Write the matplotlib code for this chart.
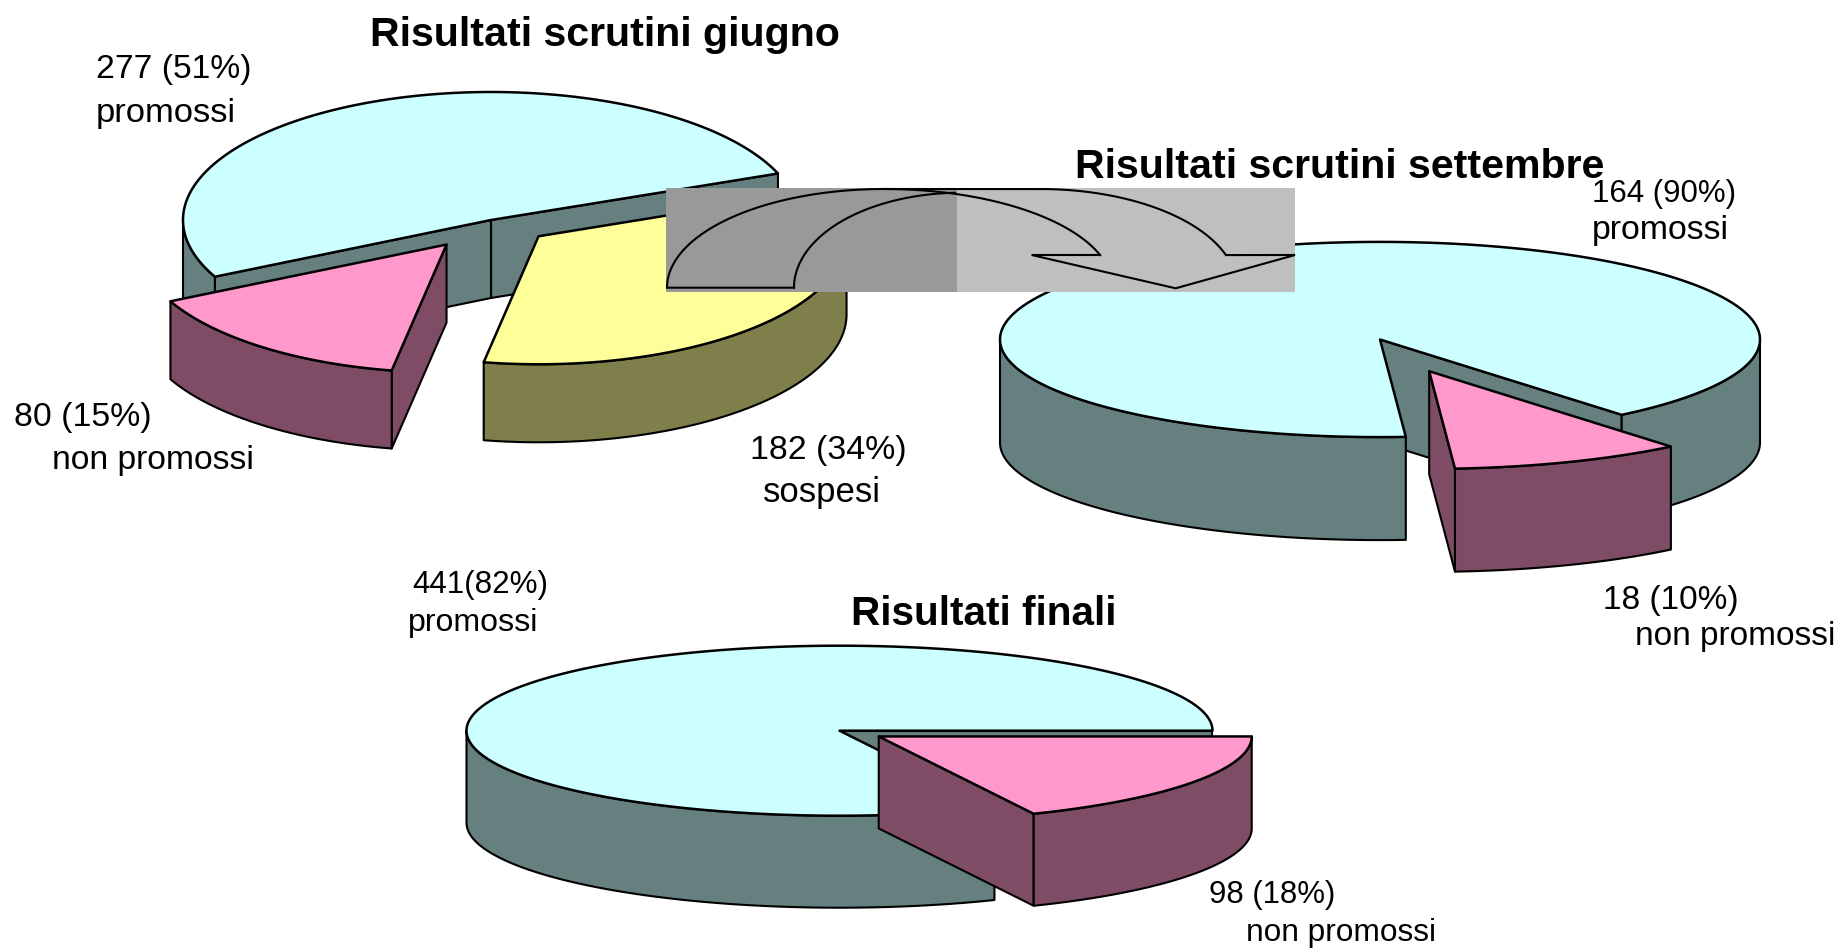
"""
Three exploded 3D looking pies (scrutini giugno, settembre, finali) with the curved arrow
"""

import numpy as np
import matplotlib
matplotlib.use("Agg")
from matplotlib import pyplot as plt
from matplotlib.patches import Polygon, Rectangle

plt.rcParams['font.family'] = ['Liberation Sans', 'DejaVu Sans']

# data
giugno_values = [277, 80, 182]
settembre_values = [164, 18]
finali_values = [441, 98]

giugno_kinds = ["promossi", "non promossi", "sospesi"]
settembre_kinds = ["promossi", "non promossi"]
finali_kinds = ["promossi", "non promossi"]

title_giugno = "Risultati scrutini giugno"
title_settembre = "Risultati scrutini settembre"
title_finali = "Risultati finali"

# colours
tops = {"promossi": "#CCFFFF", "non promossi": "#FF99CC", "sospesi": "#FFFF99"}
sides = {"promossi": "#667F7F", "non promossi": "#7F4C66", "sospesi": "#7F7F4C"}

fig = plt.figure(figsize=(18.4, 9.49), dpi=100)
ax = fig.add_axes([0, 0, 1, 1])
ax.set_xlim(0, 1840)
ax.set_ylim(949, 0)
ax.axis("off")

LW = 1.5


def rim(cx, cy, a, b, t):
    t = np.radians(t)
    return np.column_stack([cx + a * np.cos(t), cy - b * np.sin(t)])


def draw_pie(values, kinds, cx, cy, a, b, depth, start, explode):
    total = float(sum(values))
    t0 = start
    for value, kind, ex in zip(values, kinds, explode):
        t1 = t0 + 360.0 * value / total
        mid = np.radians((t0 + t1) / 2)
        x = cx + ex * a * np.cos(mid)
        y = cy - ex * b * np.sin(mid)
        edge = rim(x, y, a, b, np.linspace(t0, t1, 300))
        down = np.array([0, depth])
        apex = np.array([x, y])
        # cut faces, only the ones turned towards the viewer
        if np.cos(np.radians(t0)) > 0:
            face = [apex, edge[0], edge[0] + down, apex + down]
            ax.add_patch(Polygon(face, fc=sides[kind], ec="k", lw=LW, joinstyle="round"))
        if np.cos(np.radians(t1)) < 0:
            face = [apex, edge[-1], edge[-1] + down, apex + down]
            ax.add_patch(Polygon(face, fc=sides[kind], ec="k", lw=LW, joinstyle="round"))
        # outer wall, only the front half of the ellipse shows
        for lo, hi in ((-180, 0), (180, 360), (540, 720)):
            lo2, hi2 = max(t0, lo), min(t1, hi)
            if hi2 > lo2:
                arc = rim(x, y, a, b, np.linspace(lo2, hi2, 300))
                wall = np.vstack([arc, arc[::-1] + down])
                ax.add_patch(Polygon(wall, fc=sides[kind], ec="k", lw=LW, joinstyle="round"))
        ax.add_patch(Polygon(np.vstack([apex, edge]), fc=tops[kind], ec="k", lw=LW + 0.3, joinstyle="round"))
        t0 = t1


draw_pie(giugno_values, giugno_kinds, 491, 220, 308, 128, 78, 21.3, [0, 0.24, 0.2])
draw_pie(settembre_values, settembre_kinds, 1380, 339.5, 380, 97.6, 103, -50.5, [0, 0.35])
draw_pie(finali_values, finali_kinds, 839.5, 730.7, 373, 85, 92, 0, [0, 0.125])


# curved arrow sitting on a two tone box
def arc(cx, cy, rx, ry, t0, t1):
    t = np.radians(np.linspace(t0, t1, 120))
    return np.column_stack([cx + rx * np.cos(t), cy - ry * np.sin(t)])


ax.add_patch(Rectangle((666, 188), 291, 104, fc="#999999", ec="none", zorder=5))
ax.add_patch(Rectangle((957, 188), 338, 104, fc="#BFBFBF", ec="none", zorder=5))

outer_left = arc(884, 287.7, 217, 98.7, 180, 90)
outer_right = arc(1040, 287.7, 197, 98.7, 90, 19.3)
inner_right = arc(884, 287.7, 229, 98.7, 90, 19.3)
inner_left = arc(961, 287.7, 167, 95, 92, 180)

ax.plot(*np.vstack([[[794, 287.7]], [[667, 287.7]], outer_left, outer_right, [[1295, 255]],
                    [[1175.6, 288.3]], [[1031.6, 255]], [[1100, 255]]]).T,
        color="k", lw=LW, zorder=6, solid_joinstyle="miter")
ax.plot(*inner_right.T, color="k", lw=LW, zorder=6)
ax.plot(*inner_left.T, color="k", lw=LW, zorder=6)

# titles
ax.text(605, 35, title_giugno, fontsize=29.6, fontweight="bold", ha="center", va="center", zorder=7)
ax.text(1340, 167, title_settembre, fontsize=29.6, fontweight="bold", ha="center", va="center", zorder=7)
ax.text(984, 614, title_finali, fontsize=29.2, fontweight="bold", ha="center", va="center", zorder=7)


# labels
def label(x, y, s, ha="left", size=24.4):
    ax.text(x, y + 2.5, s, fontsize=size, ha=ha, va="center", zorder=7)


label(96, 67, "%d (51%%)" % giugno_values[0], size=24.2)
label(96, 111, giugno_kinds[0], size=24.8)
label(14, 415, "%d (15%%)" % giugno_values[1])
label(254, 458, giugno_kinds[1], ha="right", size=24.2)
label(750, 448, "%d (34%%)" % giugno_values[2])
label(763, 490, giugno_kinds[2], size=25)
label(1592, 191, "%d (90%%)" % settembre_values[0], size=22.5)
label(1592, 228, settembre_kinds[0])
label(1603, 598, "%d (10%%)" % settembre_values[1], size=24)
label(1635, 634, settembre_kinds[1], size=24)
label(412, 582, "%d(82%%)" % finali_values[0], size=22.6)
label(408, 620, finali_kinds[0], size=23.1)
label(1209, 892, "%d (18%%)" % finali_values[1], size=22.4)
label(1246, 931, finali_kinds[1], size=22.8)

fig.savefig("out.png", dpi=100, facecolor="white")
